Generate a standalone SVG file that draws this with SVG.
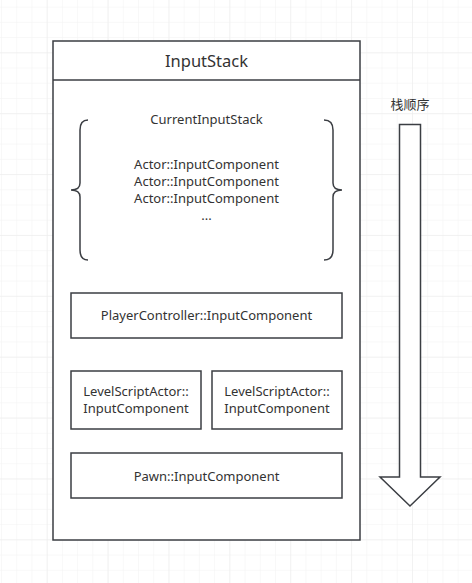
<svg xmlns="http://www.w3.org/2000/svg" width="472" height="583" viewBox="0 0 472 583">
<defs>
<pattern id="minor" patternUnits="userSpaceOnUse" x="46.7" y="52.3" width="15.22" height="15.22">
<path d="M0 0H15.22M0 0V15.22" fill="none" stroke="#f2f2f2" stroke-width="1"/>
</pattern>
<pattern id="major" patternUnits="userSpaceOnUse" x="46.7" y="52.3" width="60.88" height="60.88">
<path d="M0 0H60.88M0 0V60.88" fill="none" stroke="#ebebeb" stroke-width="1"/>
</pattern>
<style>
.box{fill:#ffffff;stroke:#3b3e43;stroke-width:1.5}
.ln{fill:none;stroke:#3b3e43;stroke-width:1.5}
.t{font-family:"Noto Sans","Noto Sans CJK SC",sans-serif;font-size:13px;fill:#333333;text-anchor:middle}
.title{font-size:16.5px}
</style>
</defs>
<rect width="472" height="583" fill="#ffffff"/>
<rect width="472" height="583" fill="url(#minor)"/>
<rect width="472" height="583" fill="url(#major)"/>

<g id="InputStack">
<rect class="box" x="53" y="41" width="307" height="499"/>
<line class="ln" x1="53" y1="80" x2="360" y2="80"/>
<text class="t title" x="206.5" y="67">InputStack</text>
</g>

<g id="CurrentInputStack">
<path class="ln" d="M88 120 Q80 120 80 130 V183 Q80 190 71 190 Q80 190 80 197 V250 Q80 260 88 260"/>
<path class="ln" d="M324 120 Q333 120 333 130 V183 Q333 190 342 190 Q333 190 333 197 V250 Q333 260 324 260"/>
<text class="t" x="206.5" y="124">CurrentInputStack</text>
<text class="t" x="206.5" y="169">Actor::InputComponent<tspan x="206.5" dy="17">Actor::InputComponent</tspan><tspan x="206.5" dy="17">Actor::InputComponent</tspan><tspan x="206.5" dy="17">...</tspan></text>
</g>

<g id="PlayerController">
<rect class="box" x="71" y="293" width="271" height="45"/>
<text class="t" x="206.5" y="320">PlayerController::InputComponent</text>
</g>

<g id="LevelScriptActor1">
<rect class="box" x="71" y="371" width="130" height="58"/>
<text class="t" x="136" y="396">LevelScriptActor::<tspan x="136" dy="17">InputComponent</tspan></text>
</g>

<g id="LevelScriptActor2">
<rect class="box" x="212" y="371" width="130" height="58"/>
<text class="t" x="277" y="396">LevelScriptActor::<tspan x="277" dy="17">InputComponent</tspan></text>
</g>

<g id="Pawn">
<rect class="box" x="71" y="453" width="271" height="45"/>
<text class="t" x="206.5" y="481">Pawn::InputComponent</text>
</g>

<g id="StackOrder">
<text class="t" x="410" y="109">栈顺序</text>
<path class="box" d="M399.5 124.5 H420.5 V477 H440 L410 506 L380 477 H399.5 Z"/>
</g>

<g id="connectors"></g>
</svg>
